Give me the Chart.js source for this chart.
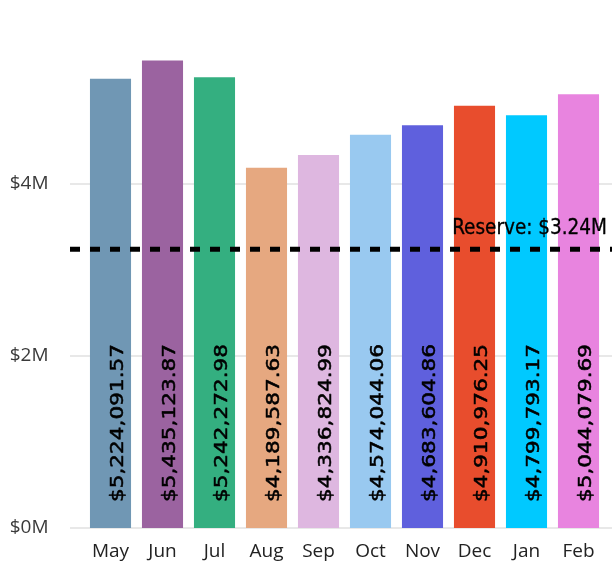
<!DOCTYPE html>
<html>
<head>
<meta charset="utf-8">
<script src="https://cdn.jsdelivr.net/npm/chart.js@4/dist/chart.umd.min.js"></script>
<style>
html,body{margin:0;padding:0;background:#fff;}
#wrap{width:612px;height:564px;position:relative;}
</style>
</head>
<body>
<div id="wrap"><canvas id="c" width="612" height="564"></canvas></div>
<script>
const months = ['May','Jun','Jul','Aug','Sep','Oct','Nov','Dec','Jan','Feb'];
const amounts = [5224091.57, 5435123.87, 5242272.98, 4189587.63, 4336824.99, 4574044.06, 4683604.86, 4910976.25, 4799793.17, 5044079.69];
const barColors = ['#7097B4','#9B63A0','#34AF80','#E6A880','#DEB7E0','#99C9F0','#5F60DD','#E84D2D','#00C9FF','#E884DF'];
const reserveValue = 3240000;
const reserveLabel = 'Reserve: $3.24M';
const yTickValues = [0, 2000000, 4000000];

function money(v){
  return '$' + v.toLocaleString('en-US',{minimumFractionDigits:2, maximumFractionDigits:2});
}

const extrasPlugin = {
  id: 'extras',
  beforeDatasetsDraw(chart){
    const ctx = chart.ctx, y = chart.scales.y;
    ctx.save();
    ctx.strokeStyle = '#e8e8e8';
    ctx.lineWidth = 2;
    yTickValues.forEach(v => {
      const py = Math.round(y.getPixelForValue(v));
      ctx.beginPath(); ctx.moveTo(70, py); ctx.lineTo(612, py); ctx.stroke();
    });
    ctx.restore();
  },
  afterDatasetsDraw(chart){
    const ctx = chart.ctx, y = chart.scales.y;
    const meta = chart.getDatasetMeta(0);
    ctx.save();
    ctx.fillStyle = '#000';
    ctx.strokeStyle = '#000';
    ctx.lineWidth = 0.6;
    ctx.lineJoin = 'round';
    ctx.font = '20px "DejaVu Sans"';
    ctx.textAlign = 'left';
    ctx.textBaseline = 'alphabetic';
    meta.data.forEach((el, i) => {
      ctx.save();
      ctx.translate(el.x + 12, el.base - 26);
      ctx.rotate(-Math.PI/2);
      ctx.scale(1.08, 0.84);
      const t = money(amounts[i]);
      ctx.fillText(t, 0, 0);
      ctx.strokeText(t, 0, 0);
      ctx.restore();
    });
    // reserve line
    const ry = y.getPixelForValue(reserveValue);
    ctx.lineWidth = 5;
    ctx.setLineDash([10,10]);
    ctx.beginPath(); ctx.moveTo(70, ry); ctx.lineTo(612, ry); ctx.stroke();
    ctx.setLineDash([]);
    ctx.font = '20.5px "DejaVu Sans Condensed"';
    ctx.textAlign = 'right';
    ctx.lineWidth = 0.3;
    ctx.fillText(reserveLabel, 607, ry - 15);
    ctx.strokeText(reserveLabel, 607, ry - 15);
    ctx.restore();
  }
};

new Chart(document.getElementById('c'), {
  type: 'bar',
  data: {
    labels: months,
    datasets: [{
      data: amounts,
      backgroundColor: barColors,
      borderWidth: 0,
      barPercentage: 0.79,
      categoryPercentage: 1
    }]
  },
  options: {
    responsive: false,
    animation: false,
    devicePixelRatio: 1,
    layout: { padding: { top: 12, right: 7.5, left: 0, bottom: 0 } },
    plugins: { legend: { display: false }, tooltip: { enabled: false } },
    scales: {
      x: {
        grid: { display: false, drawTicks: false },
        border: { display: false },
        ticks: { color: '#222', font: { family: '"Open Sans"', size: 19 }, padding: 12, maxRotation: 0 },
        afterFit(s){ s.height = 36; s.paddingLeft = 0; s.paddingRight = 0; }
      },
      y: {
        min: 0, max: 6000000,
        grid: { display: false, drawTicks: false },
        border: { display: false },
        ticks: {
          stepSize: 2000000,
          color: '#3a3a3a',
          font: { family: '"Open Sans"', size: 19 },
          padding: 36,
          callback: v => yTickValues.includes(v) ? '$' + (v/1000000) + 'M' : ''
        },
        afterFit(s){ s.width = 84.5; s.paddingTop = 0; s.paddingBottom = 0; }
      }
    }
  },
  plugins: [extrasPlugin]
});
</script>
</body>
</html>
